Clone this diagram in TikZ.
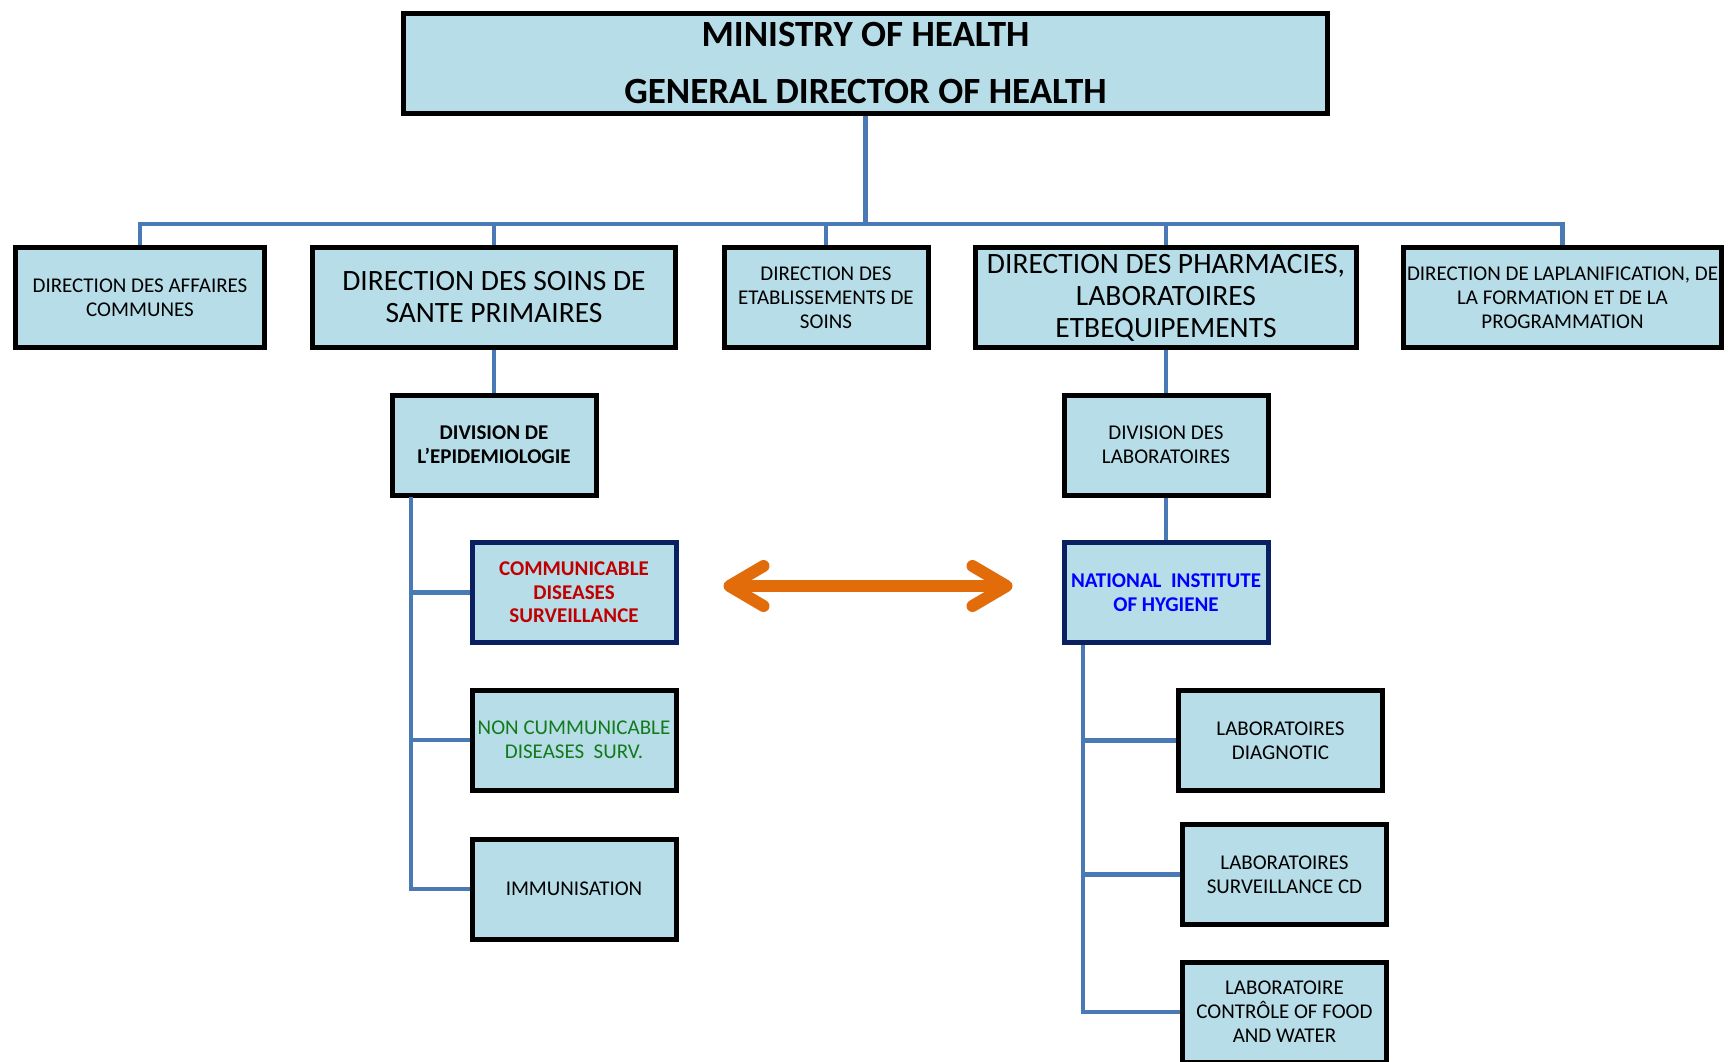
\documentclass[tikz,border=0pt]{standalone}
\usepackage{fontspec}
\setmainfont{Carlito}
\usetikzlibrary{arrows.meta}
\definecolor{boxfill}{HTML}{B7DDE8}
\definecolor{connblue}{HTML}{4A7AB5}
\definecolor{navyline}{HTML}{0A2060}
\definecolor{redtext}{HTML}{C00000}
\definecolor{bluetext}{HTML}{0000FF}
\definecolor{greentext}{HTML}{127A1A}
\definecolor{arroworange}{HTML}{E36C0A}

\begin{document}
\begin{tikzpicture}
  [x=1pt,y=-1pt,
   every node/.style={draw=black,line width=5pt,fill=boxfill,align=center,inner sep=0pt,
     minimum width=204pt,minimum height=100pt,font=\fontsize{21}{24}\selectfont},
   bigunit/.style={font=\fontsize{29.5}{32}\selectfont},
   keyunit/.style={draw=navyline,font=\fontsize{21}{23.5}\selectfont\bfseries},
   conn/.style={draw=connblue,line width=4.3pt}]
  \useasboundingbox (0,0) rectangle (1733,1061);
  % top level
  \node[minimum width=924pt,font=\fontsize{37}{57}\selectfont\bfseries] (top) at (865.5,63) {MINISTRY OF HEALTH\\GENERAL DIRECTOR OF HEALTH};
  % directions
  \node[minimum width=249pt] (affaires) at (140,297.5) {DIRECTION DES AFFAIRES\\COMMUNES};
  \node[bigunit,minimum width=363pt] (soins) at (494,297.5) {DIRECTION DES SOINS DE\\SANTE PRIMAIRES};
  \node (etab) at (826,297.5) {DIRECTION DES\\ETABLISSEMENTS DE\\SOINS};
  \node[bigunit,minimum width=381pt] (pharm) at (1166,297.5) {DIRECTION DES PHARMACIES,\\LABORATOIRES\\ETBEQUIPEMENTS};
  \node[minimum width=318pt] (planif) at (1562.5,297.5) {DIRECTION DE LAPLANIFICATION, DE\\LA FORMATION ET DE LA\\PROGRAMMATION};
  % divisions
  \node[font=\fontsize{21}{24}\selectfont\bfseries] (epid) at (494,445) {DIVISION DE\\L’EPIDEMIOLOGIE};
  \node (divlab) at (1166,445) {DIVISION DES\\LABORATOIRES};
  % services
  \node[keyunit,text=redtext] (comm) at (574,592.5) {COMMUNICABLE\\DISEASES\\SURVEILLANCE};
  \node[text=greentext] (noncomm) at (574,740) {NON CUMMUNICABLE\\DISEASES\ \ SURV.};
  \node (immun) at (574,889) {IMMUNISATION};
  \node[keyunit,text=bluetext] (nih) at (1166,592.5) {NATIONAL\ \ INSTITUTE\\OF HYGIENE};
  \node (labdiag) at (1280.5,740.5) {LABORATOIRES\\DIAGNOTIC};
  \node (labsurv) at (1284.5,874.5) {LABORATOIRES\\SURVEILLANCE CD};
  \node (labctrl) at (1284.5,1012) {LABORATOIRE\\CONTRÔLE OF FOOD\\AND WATER};
  % bus and spines
  \coordinate (bus) at (865.5,224);
  \coordinate (lspine) at (411,497);
  \coordinate (rspine) at (1083,645);
  \foreach \to in {affaires,soins,etab,pharm,planif}
    \draw[conn] (top.south) -- (top.south |- bus) -| (\to.north);
  \foreach \from/\to in {soins/epid,pharm/divlab,divlab/nih}
    \draw[conn] (\from.south) -- (\to.north);
  \foreach \to in {comm,noncomm,immun}
    \draw[conn] (lspine) |- (\to.west);
  \foreach \to in {labdiag,labsurv,labctrl}
    \draw[conn] (rspine) |- (\to.west);
  % link between surveillance and hygiene
  \draw[arroworange,line width=12pt,{Straight Barb[length=34pt,width=40pt,round]}-{Straight Barb[length=34pt,width=40pt,round]},
    shorten <=45pt,shorten >=49pt] ([yshift=6.5pt]comm.east) -- ([yshift=6.5pt]nih.west);
\end{tikzpicture}
\end{document}
